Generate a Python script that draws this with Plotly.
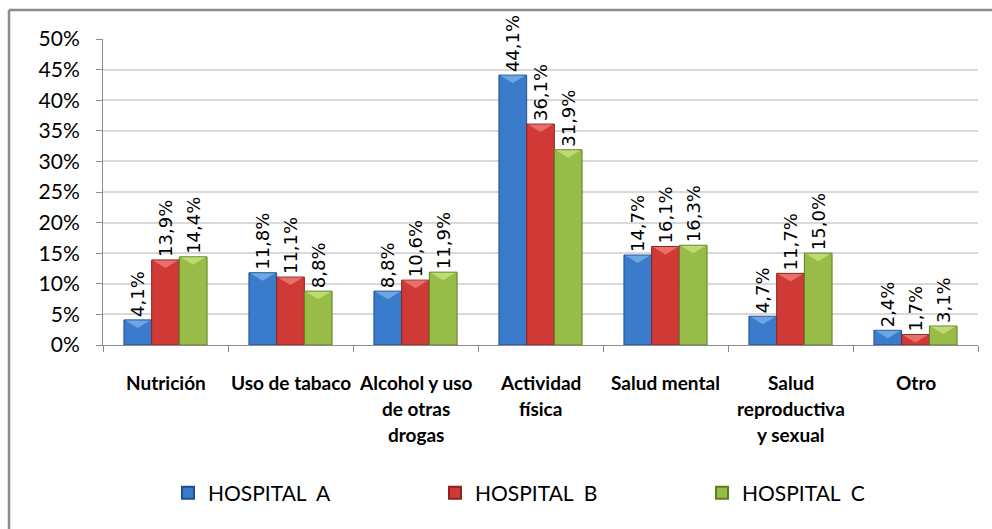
import plotly.graph_objects as go

# Health topics (line breaks mark how each axis label wraps)
categories = [
    "Nutrición",
    "Uso de tabaco",
    "Alcohol y uso<br>de otras<br>drogas",
    "Actividad<br>física",
    "Salud mental",
    "Salud<br>reproductiva<br>y sexual",
    "Otro",
]
hospital_a = [0.041, 0.118, 0.088, 0.441, 0.147, 0.047, 0.024]
hospital_b = [0.139, 0.111, 0.106, 0.361, 0.161, 0.117, 0.017]
hospital_c = [0.144, 0.088, 0.119, 0.319, 0.163, 0.150, 0.031]
series_names = ["HOSPITAL  A", "HOSPITAL  B", "HOSPITAL  C"]
y_ticks = [0, 0.05, 0.10, 0.15, 0.20, 0.25, 0.30, 0.35, 0.40, 0.45, 0.50]

fills = ["#3b7bcb", "#cf3a36", "#97bc47"]
edges = ["#1f4f8c", "#8e2220", "#5f7d24"]
tops = ["#78aee8", "#ec7a76", "#c3e07a"]

# plot-area geometry in pixels
W, H = 992, 529
ML, MR, MT, MB = 103, 14, 39, 184
PW, PH = W - ML - MR, H - MT - MB
BARGAP = 0.335
Y_MAX = 0.5


def px_x(x):
    return (x - ML) / PW


def px_y(y):
    return (H - MB - y) / PH


all_series = [hospital_a, hospital_b, hospital_c]

fig = go.Figure()
for name, vals, fc, ec in zip(series_names, all_series, fills, edges):
    fig.add_trace(go.Bar(
        name=name,
        x=categories,
        y=vals,
        marker=dict(color=fc, line=dict(color=ec, width=1)),
        texttemplate="%{y:.1%}",
        textposition="outside",
        textangle=-90,
        constraintext="none",
        cliponaxis=False,
        textfont=dict(family="DejaVu Sans", size=18, color="#000000"),
    ))

# bevel highlight: a light wedge on the top face of every bar
shapes = []
n_series = len(all_series)
bar_w = (1 - BARGAP) / n_series
bevel_h = 8 / PH * Y_MAX
for s, (vals, tc) in enumerate(zip(all_series, tops)):
    for c, v in enumerate(vals):
        x0 = c - (1 - BARGAP) / 2 + s * bar_w + 0.012
        x1 = x0 + bar_w - 0.024
        xm = (x0 + x1) / 2
        h = min(bevel_h, v * 0.8)
        shapes.append(dict(
            type="path", xref="x", yref="y", layer="above",
            path=f"M {x0} {v - 0.0008} L {x1} {v - 0.0008} L {xm} {v - h} Z",
            fillcolor=tc, opacity=0.85, line=dict(width=0),
        ))

# category labels, one annotation per line for Excel-like line spacing
annotations = []
for cat in categories:
    for i, line in enumerate(cat.split("<br>")):
        annotations.append(dict(
            x=cat, xref="x", y=px_y(382 + i * 26), yref="paper",
            text="<b>" + line + "</b>", showarrow=False,
            xanchor="center", yanchor="middle",
            font=dict(family="Lato", size=19, color="#000000"),
        ))

# outer chart frame (top and left edges)
shapes += [
    dict(type="line", xref="paper", yref="paper",
         x0=px_x(9), x1=px_x(995), y0=px_y(10), y1=px_y(10),
         line=dict(color="#8c8c8c", width=2.5)),
    dict(type="line", xref="paper", yref="paper",
         x0=px_x(9), x1=px_x(9), y0=px_y(10), y1=px_y(535),
         line=dict(color="#8c8c8c", width=2.5)),
]

fig.update_layout(
    width=W, height=H,
    margin=dict(l=ML, r=MR, t=MT, b=MB),
    paper_bgcolor="white", plot_bgcolor="white",
    separators=",.",
    barmode="group", bargap=BARGAP, bargroupgap=0,
    showlegend=True,
    legend=dict(
        orientation="h", x=px_x(168), xanchor="left",
        y=px_y(493), yanchor="middle",
        entrywidth=222, entrywidthmode="pixels",
        font=dict(family="Lato", size=21, color="#000000"),
        itemsizing="constant",
    ),
    annotations=annotations,
    shapes=shapes,
    xaxis=dict(
        showticklabels=False,
        showline=True, linecolor="#8c8c8c", linewidth=1,
        ticks="outside", tickson="boundaries", ticklen=6, tickcolor="#8c8c8c",
        showgrid=False, fixedrange=True,
    ),
    yaxis=dict(
        range=[0, Y_MAX], tickvals=y_ticks, tickformat=".0%",
        showline=True, linecolor="#8c8c8c", linewidth=1,
        ticks="outside", ticklen=6, tickcolor="#8c8c8c",
        showgrid=True, gridcolor="#d9d9d9", gridwidth=1.5,
        zeroline=False,
        tickfont=dict(family="Lato", size=21, color="#000000"),
        ticklabelstandoff=12,
    ),
)

fig.write_html("out.html")
